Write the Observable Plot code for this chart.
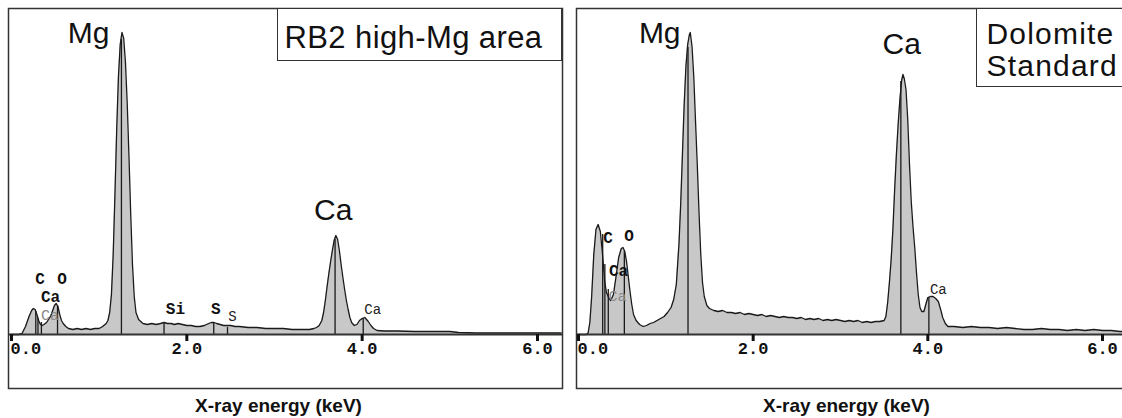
<!DOCTYPE html>
<html><head><meta charset="utf-8">
<script src="https://cdn.jsdelivr.net/npm/d3@7"></script>
<script src="https://cdn.jsdelivr.net/npm/@observablehq/plot@0.6"></script>
<style>
html,body{margin:0;padding:0;background:#fff;}
#page{position:relative;width:1122px;height:418px;overflow:hidden;background:#fff;}
.panel{position:absolute;top:0;height:418px;overflow:hidden;}
.title{position:absolute;border:1.5px solid #333;background:#fff;box-sizing:border-box;
  font-family:"Liberation Sans",Arial,sans-serif;color:#111;}
.title span{position:absolute;white-space:nowrap;}
</style></head><body>
<div id="page">
  <div class="panel" id="left" style="left:0;width:568px"></div>
  <div class="panel" id="right" style="left:568px;width:554px"></div>
  <div class="title" style="left:277px;top:8px;width:285px;height:53px;">
    <span style="left:6.5px;top:13.3px;font-size:31px;line-height:31px;letter-spacing:0.4px;">RB2 high-Mg area</span>
  </div>
  <div class="title" style="left:976px;top:8px;width:170px;height:79px;">
    <span style="left:9.5px;top:9px;font-size:30px;line-height:32px;letter-spacing:1.2px;">Dolomite<br>Standard</span>
  </div>
</div>
<script>
// ---------- data ----------
const tickValues = [0, 2, 4, 6];
const axisTitle = "X-ray energy (keV)";

// RB2 high-Mg area spectrum: [energy keV, counts (arb.)]
const rb2Spectrum = [[0,0],[0.08,0],[0.12,1],[0.16,8],[0.20,18],[0.23,24],[0.25,26],[0.27,25],[0.29,20],[0.31,14],[0.33,10],[0.35,9],[0.37,10],[0.40,12],[0.43,16],[0.45,19],[0.47,24],[0.49,29],[0.51,31],[0.53,28],[0.55,20],[0.57,14],[0.59,11],[0.62,8],[0.65,6],[0.70,5],[0.75,6],[0.80,5],[0.85,6],[0.90,5],[0.95,6],[1.00,6],[1.04,8],[1.08,11],[1.10,14],[1.12,22],[1.14,40],[1.16,80],[1.18,140],[1.20,205],[1.22,258],[1.24,290],[1.26,302],[1.28,296],[1.30,272],[1.32,231],[1.34,178],[1.36,120],[1.38,70],[1.40,38],[1.42,22],[1.45,15],[1.50,11],[1.55,10],[1.60,11],[1.65,10],[1.70,11],[1.74,12],[1.78,11],[1.82,11],[1.86,10],[1.90,11],[1.95,10],[2.00,9],[2.05,9],[2.10,8],[2.15,8],[2.20,9],[2.25,11],[2.28,12],[2.31,12],[2.34,11],[2.38,10],[2.42,9],[2.46,9],[2.50,9],[2.55,8],[2.60,8],[2.70,7],[2.80,7],[2.90,6],[3.00,6],[3.10,6],[3.20,5],[3.30,5],[3.40,5],[3.45,6],[3.48,7],[3.51,9],[3.54,14],[3.56,22],[3.58,34],[3.60,48],[3.62,61],[3.64,73],[3.66,84],[3.68,94],[3.70,99],[3.72,95],[3.74,84],[3.76,70],[3.78,57],[3.80,45],[3.82,34],[3.84,25],[3.86,17],[3.88,12],[3.91,9],[3.94,10],[3.97,14],[4.00,16],[4.03,17],[4.05,15],[4.07,13],[4.10,9],[4.13,6],[4.17,4],[4.25,3.5],[4.40,3.5],[4.60,3],[4.80,3],[5.00,3],[5.10,2],[5.30,1.5],[5.50,1.5],[5.70,1.5],[5.90,1.5],[6.10,1.5],[6.27,1.5]];

// Dolomite standard spectrum
const dolSpectrum = [[0,0],[0.09,0],[0.11,1.5],[0.13,12],[0.15,37],[0.175,80],[0.20,105],[0.225,110],[0.25,103],[0.275,80],[0.30,53],[0.32,42],[0.35,36],[0.37,34],[0.40,40],[0.43,58],[0.46,77],[0.49,86],[0.51,87],[0.53,83],[0.55,73],[0.57,58],[0.59,43],[0.61,30],[0.63,20],[0.66,14],[0.70,10],[0.74,8],[0.78,9],[0.82,11],[0.86,12],[0.90,14],[0.94,16],[0.98,18],[1.02,22],[1.06,27],[1.09,35],[1.12,50],[1.15,90],[1.17,130],[1.19,180],[1.21,230],[1.23,268],[1.25,290],[1.27,300],[1.28,302],[1.30,288],[1.32,258],[1.34,213],[1.36,170],[1.38,122],[1.40,80],[1.42,52],[1.44,38],[1.47,29],[1.50,26],[1.55,24],[1.60,23],[1.65,24],[1.70,22],[1.75,22],[1.80,21],[1.85,22],[1.90,20],[1.95,21],[2.00,20],[2.05,19],[2.10,20],[2.15,18],[2.20,19],[2.25,18],[2.30,17],[2.35,18],[2.40,17],[2.45,17],[2.50,16],[2.55,17],[2.60,15],[2.65,16],[2.70,15],[2.75,16],[2.80,14],[2.85,15],[2.90,14],[2.95,15],[3.00,14],[3.05,13],[3.10,14],[3.15,13],[3.20,14],[3.25,12],[3.30,13],[3.35,12],[3.40,13],[3.45,13],[3.50,14],[3.52,18],[3.54,32],[3.56,52],[3.58,75],[3.60,105],[3.62,145],[3.64,180],[3.66,210],[3.68,235],[3.70,254],[3.715,260],[3.73,256],[3.75,245],[3.77,215],[3.79,170],[3.81,133],[3.83,108],[3.85,87],[3.87,62],[3.89,40],[3.91,27],[3.93,23],[3.955,23],[3.98,31],[4.00,37],[4.03,38],[4.06,38],[4.09,36],[4.12,33],[4.15,24],[4.17,17],[4.20,11],[4.23,8],[4.30,8],[4.40,7],[4.50,8],[4.60,7],[4.70,7],[4.80,6],[4.90,7],[5.00,6],[5.10,5],[5.20,5],[5.30,6],[5.40,5],[5.50,5],[5.60,4],[5.70,5],[5.80,4],[5.90,5],[6.00,4],[6.10,4],[6.20,3],[6.27,3]];

// element line markers: energy (keV) and marker height (counts)
const rb2LineEnergy = [0.277, 0.302, 0.341, 0.525, 1.254, 1.740, 2.307, 2.464, 3.691, 4.012];
const rb2LineHeight = [23, 16, 12, 29, 295, 12, 12, 7, 95, 16];
const dolLineEnergy = [0.277, 0.302, 0.341, 0.525, 1.254, 3.691, 4.012];
const dolLineHeight = [100, 70, 45, 83, 287, 253, 37];

// big peak labels
const rb2PeakLabels = [{label: "Mg", energy: 0.88, counts: 292}, {label: "Ca", energy: 3.67, counts: 115}];
const dolPeakLabels = [{label: "Mg", energy: 0.93, counts: 292}, {label: "Ca", energy: 3.70, counts: 281}];

// small element labels (bold / plain / faint)
const rb2BoldLabels = [{label: "C", energy: 0.325, counts: 51}, {label: "O", energy: 0.577, counts: 51}, {label: "Ca", energy: 0.445, counts: 33}, {label: "Si", energy: 1.87, counts: 21}, {label: "S", energy: 2.33, counts: 21}];
const rb2PlainLabels = [{label: "S", energy: 2.52, counts: 14}, {label: "Ca", energy: 4.12, counts: 21}];
const rb2FaintLabels = [{label: "Ca", energy: 0.44, counts: 15}];
const dolBoldLabels = [{label: "C", energy: 0.338, counts: 92}, {label: "O", energy: 0.578, counts: 94}, {label: "Ca", energy: 0.458, counts: 59}];
const dolPlainLabels = [{label: "Ca", energy: 4.12, counts: 41}];
const dolFaintLabels = [{label: "Ca", energy: 0.447, counts: 34}];

// ---------- drawing ----------
const toRows = (pairs) => pairs.map(([energy, counts]) => ({energy, counts}));
const toLines = (E, H) => E.map((energy, i) => ({energy, height: H[i]}));

function panel({spectrum, lines, peaks, bold, plain, faint, width, marginRight, xRange}) {
  const mono = "'Liberation Mono','DejaVu Sans Mono',monospace";
  const sans = "'Liberation Sans',Arial,sans-serif";
  return Plot.plot({
    width, height: 418,
    marginLeft: 8, marginRight, marginTop: 8, marginBottom: 30,
    x: {domain: [0, 6], range: xRange, axis: null},
    y: {domain: [0, 302], range: [334, 32], axis: null},
    style: "max-width:none;background:transparent;overflow:visible;",
    marks: [
      Plot.frame({stroke: "#333", strokeWidth: 1.5}),
      Plot.areaY(spectrum, {x: "energy", y: "counts", fill: "#c8c8c8"}),
      Plot.ruleX(lines, {x: "energy", y1: 0, y2: "height", stroke: "#1a1a1a", strokeWidth: 1.3}),
      Plot.lineY(spectrum, {x: "energy", y: "counts", stroke: "#1a1a1a", strokeWidth: 1.3}),
      Plot.ruleY([0], {stroke: "#333", strokeWidth: 2}),
      Plot.ruleX(tickValues, {x: d => d, y1: 0, y2: 0, insetBottom: -7, stroke: "#111", strokeWidth: 3}),
      Plot.text(tickValues.slice(0, 1), {x: d => d, y: 0, text: d => d.toFixed(1), textAnchor: "start", dx: -1, lineAnchor: "top", dy: 7, fontFamily: mono, fontWeight: "bold", fontSize: 17, fill: "#111"}),
      Plot.text(tickValues.slice(1), {x: d => d, y: 0, text: d => d.toFixed(1), lineAnchor: "top", dy: 7, fontFamily: mono, fontWeight: "bold", fontSize: 17, fill: "#111"}),
      Plot.text([axisTitle], {frameAnchor: "bottom", lineAnchor: "bottom", dy: 23, dx: -7, fontFamily: sans, fontWeight: "bold", fontSize: 19, fill: "#111"}),
      Plot.text(faint, {x: "energy", y: "counts", text: "label", lineAnchor: "bottom", fontFamily: mono, fontSize: 15, fill: "#888"}),
      Plot.text(bold, {x: "energy", y: "counts", text: "label", lineAnchor: "bottom", fontFamily: mono, fontWeight: "bold", fontSize: 16, fill: "#111"}),
      Plot.text(plain, {x: "energy", y: "counts", text: "label", lineAnchor: "bottom", fontFamily: mono, fontSize: 14, fill: "#222"}),
      Plot.text(peaks, {x: "energy", y: "counts", text: "label", lineAnchor: "bottom", fontFamily: sans, fontSize: 30, fill: "#111"})
    ]
  });
}

document.getElementById("left").append(panel({
  spectrum: toRows(rb2Spectrum), lines: toLines(rb2LineEnergy, rb2LineHeight),
  peaks: rb2PeakLabels, bold: rb2BoldLabels, plain: rb2PlainLabels, faint: rb2FaintLabels,
  width: 568, marginRight: 6, xRange: [11, 537]
}));
document.getElementById("right").append(panel({
  spectrum: toRows(dolSpectrum), lines: toLines(dolLineEnergy, dolLineHeight),
  peaks: dolPeakLabels, bold: dolBoldLabels, plain: dolPlainLabels, faint: dolFaintLabels,
  width: 562, marginRight: 0, xRange: [10, 534]
}));
</script>
</body></html>
